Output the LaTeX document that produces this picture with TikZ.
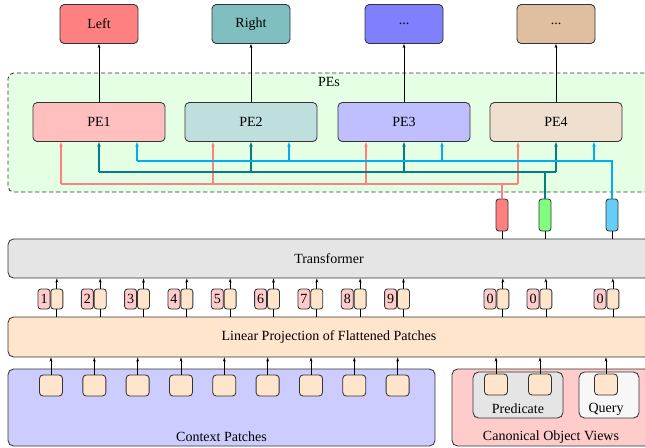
\documentclass[tikz,border=0pt]{standalone}
\usepackage{fontspec}
\setmainfont{Liberation Serif}
\usetikzlibrary{positioning}
\usetikzlibrary{calc}
\usetikzlibrary{arrows.meta}
\newcommand*{\pxu}{0.714pt}
\newcommand*{\more}{...}
\definecolor{qcyan}{RGB}{0,174,239}
\tikzset{
  sz/.style 2 args={minimum width=#1*\pxu, minimum height=#2*\pxu},
  box/.style={draw=black!80, line width=0.6pt, rounded corners=3pt, inner sep=0pt},
  group/.style={box, rounded corners=4pt},
  tok/.style={box, rounded corners=2pt, sz={12}{20}},
  patchbox/.style={box, rounded corners=2.5pt, sz={23}{21}, fill=orange!20},
  tip/.style={-{Stealth[length=3pt,width=2pt]}, line width=0.5pt},
  branch/.style={-{Stealth[length=3.5pt,width=2.5pt]}, line width=0.9pt},
  bus/.style={line width=1.4pt}
}

\begin{document}
\begin{tikzpicture}[x=\pxu, y=-\pxu]
    \useasboundingbox (0,0) rectangle (645,447);

    % group boxes
    \node[group, dashed, dash pattern=on 3pt off 2pt, fill=green!10, sz={642}{119}] (pes) at (329,132.5) {};
    \node (pestitle) at (329,82) {PEs};
    \node[group, fill=black!10, sz={642}{39}] (transformer) at (329,258.5) {Transformer};
    \node[group, fill=orange!20, sz={642}{40}] (linproj) at (329,337) {Linear Projection of Flattened Patches};
    \node[group, fill=blue!20, sz={427}{77}] (context) at (221.5,407.5) {};
    \node (contexttitle) at (221.5,437) {Context Patches};
    \node[group, fill=red!20, sz={198}{77}] (canon) at (551,407.5) {};
    \node (canontitle) at (551,437) {Canonical Object Views};
    \node[group, fill=black!10, sz={90}{46}] (pred) at (518,395) {};
    \node (predtitle) at (518,409) {Predicate};
    \node[group, fill=black!3, sz={60}{46}] (query) at (609,395) {};
    \node (querytitle) at (606,409) {Query};

    % outputs and PEs
    \foreach \i/\x/\c/\t in {1/99/red/Left, 2/251/teal/Right, 3/404/blue/\more, 4/556/brown/\more} {
        \node[box, sz={78}{39}, fill=\c!50] (out\i) at (\x,24) {\t};
        \node[box, sz={132}{39}, fill=\c!25] (pe\i) at (\x,122) {PE\i};
        \draw[tip] (pe\i) -- (out\i);
    }

    % query tokens above the transformer
    \node[tok, sz={12}{32}, fill=red!50] (keyR) at (502,215) {};
    \node[tok, sz={12}{32}, fill=green!50] (keyG) at (545,215) {};
    \node[tok, sz={12}{32}, fill=qcyan!60] (keyB) at (612,215) {};
    \foreach \k in {keyR,keyG,keyB} {
        \draw[line width=0.5pt] (\k) -- (\k |- transformer.north);
    }

    % buses into the PEs
    \coordinate (rbus) at (0,184);
    \coordinate (tbus) at (0,172);
    \coordinate (cbus) at (0,161);
    \foreach \i in {1,...,4} {
        \draw[branch, red!50] ([xshift=-38*\pxu]pe\i.south |- rbus) -- ([xshift=-38*\pxu]pe\i.south);
        \draw[branch, teal] (pe\i.south |- tbus) -- (pe\i.south);
        \draw[branch, qcyan] ([xshift=38*\pxu]pe\i.south |- cbus) -- ([xshift=38*\pxu]pe\i.south);
    }
    \draw[bus, red!50] ([xshift=-38*\pxu]pe1.south |- rbus) -- ([xshift=-38*\pxu]pe4.south |- rbus)
        (keyR.north) -- (keyR.north |- rbus);
    \draw[bus, teal] (pe1.south |- tbus) -- (pe4.south |- tbus)
        (keyG.north) -- (keyG.north |- tbus);
    \draw[bus, qcyan] (keyB.north) |- ([xshift=38*\pxu]pe1.south |- cbus);

    % context patches and their tokens
    \foreach \i in {1,...,9} {
        \node[patchbox] (patch\i) at ({51+(\i-1)*43.33},385.5) {};
        \node[tok, fill=red!20] (num\i) at ({44+(\i-1)*43.33},299) {\i};
        \node[tok, fill=orange!20, right=0pt of num\i] (emb\i) {};
        \draw[tip] (patch\i) -- (patch\i |- linproj.south);
        \draw[line width=0.5pt] (emb\i.south |- linproj.north) -- (emb\i);
        \draw[tip] (emb\i) -- (emb\i |- transformer.south);
    }

    % canonical views and their tokens
    \node[patchbox] (predA) at (496,384.5) {};
    \node[patchbox] (predB) at (540,384.5) {};
    \node[patchbox] (queryA) at (606,384.5) {};
    \foreach \p/\x [count=\j] in {predA/490, predB/533, queryA/600} {
        \node[tok, fill=red!20] (zero\j) at (\x,299) {0};
        \node[tok, fill=orange!20, right=0pt of zero\j] (zemb\j) {};
        \draw[tip] (\p) -- (\p |- linproj.south);
        \draw[line width=0.5pt] (zemb\j.south |- linproj.north) -- (zemb\j);
        \draw[tip] (zemb\j) -- (zemb\j |- transformer.south);
    }
\end{tikzpicture}
\end{document}
